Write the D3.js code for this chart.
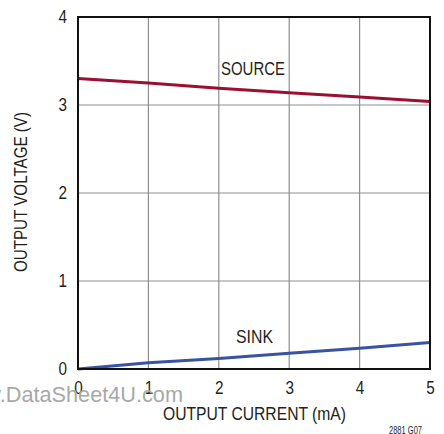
<!DOCTYPE html>
<html><head><meta charset="utf-8">
<script src="https://cdn.jsdelivr.net/npm/d3@7"></script>
<style>
body{margin:0;background:#fff;}
svg{display:block;}
.t{font-family:"Liberation Sans",Arial,sans-serif;fill:#231f20;}
</style></head>
<body><svg id="c" width="444" height="434"></svg>
<script>
const currents = [0, 1, 2, 3, 4, 5];
const sourceV = [3.30, 3.25, 3.19, 3.14, 3.09, 3.04];
const sinkV = [0.00, 0.07, 0.12, 0.18, 0.235, 0.30];
const xTicks = [0, 1, 2, 3, 4, 5];
const yTicks = [0, 1, 2, 3, 4];
const xTitle = "OUTPUT CURRENT (mA)";
const yTitle = "OUTPUT VOLTAGE (V)";

const svg = d3.select("#c");
const L = 78, R = 430, T = 17, B = 369;
const x = d3.scaleLinear().domain([0, 5]).range([L, R]);
const y = d3.scaleLinear().domain([0, 4]).range([B, T]);

function narrow(sel, len) {
  sel.attr("textLength", len).attr("lengthAdjust", "spacingAndGlyphs");
  return sel;
}

// grid
svg.append("g").selectAll("line").data(xTicks.slice(1, -1)).join("line")
  .attr("x1", d => x(d)).attr("x2", d => x(d)).attr("y1", T).attr("y2", B)
  .attr("stroke", "#8f8f8f").attr("stroke-width", 1.2);
svg.append("g").selectAll("line").data(yTicks.slice(1, -1)).join("line")
  .attr("y1", d => y(d)).attr("y2", d => y(d)).attr("x1", L).attr("x2", R)
  .attr("stroke", "#8f8f8f").attr("stroke-width", 1.2);

// axes (tick labels)
const xa = svg.append("g").attr("transform", `translate(0,${B})`)
  .call(d3.axisBottom(x).tickValues(xTicks).tickSize(0).tickPadding(12).tickFormat(d3.format("d")));
const ya = svg.append("g").attr("transform", `translate(${L},0)`)
  .call(d3.axisLeft(y).tickValues(yTicks).tickSize(0).tickPadding(11).tickFormat(d3.format("d")));
[xa, ya].forEach(a => {
  a.select(".domain").remove();
  a.selectAll("text").attr("class", "t").attr("font-size", 18).style("fill", "#231f20");
  narrow(a.selectAll("text"), 8.5);
});
xa.selectAll("text").attr("dy", "0.71em");

// lines
const line = d3.line().x((d, i) => x(currents[i])).y(d => y(d));
svg.append("path").datum(sourceV).attr("d", line).attr("fill", "none")
  .attr("stroke", "#9b0f33").attr("stroke-width", 3);
svg.append("path").datum(sinkV).attr("d", line).attr("fill", "none")
  .attr("stroke", "#3953a4").attr("stroke-width", 3);

// frame
svg.append("rect").attr("x", L).attr("y", T).attr("width", R - L).attr("height", B - T)
  .attr("fill", "none").attr("stroke", "#111").attr("stroke-width", 2);

// labels
narrow(svg.append("text").attr("class", "t").attr("x", 221).attr("y", 75)
  .attr("font-size", 18).text("SOURCE"), 64);
narrow(svg.append("text").attr("class", "t").attr("x", 236).attr("y", 343)
  .attr("font-size", 18).text("SINK"), 37);

// watermark
svg.append("text").attr("x", 183).attr("y", 402).attr("text-anchor", "end")
  .attr("font-family", "Liberation Sans, Arial, sans-serif").attr("font-size", 21.7)
  .attr("fill", "#a8a8a8").text("www.DataSheet4U.com");

// axis titles
narrow(svg.append("text").attr("class", "t").attr("x", 163).attr("y", 420)
  .attr("font-size", 19).text(xTitle), 183);
narrow(svg.append("text").attr("class", "t").attr("transform", "translate(27,272) rotate(-90)")
  .attr("font-size", 19).text(yTitle), 160);

narrow(svg.append("text").attr("class", "t").attr("x", 389).attr("y", 434)
  .attr("font-size", 11).text("2881 G07"), 33);
</script></body></html>
